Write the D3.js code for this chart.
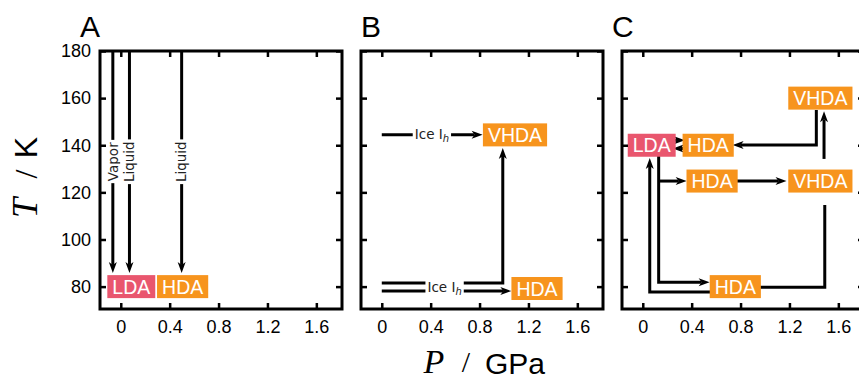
<!DOCTYPE html>
<html>
<head>
<meta charset="utf-8">
<script src="https://cdn.jsdelivr.net/npm/d3@7"></script>
<style>
  body { margin: 0; background: #fff; }
  svg { display: block; }
</style>
</head>
<body>
<div id="chart"></div>
<script>
// axis ticks
const panelNames = ['A', 'B', 'C'];
const pTicks = [0, 0.4, 0.8, 1.2, 1.6];
const tTicks = [80, 100, 120, 140, 160, 180];

// phase boxes per panel: [label, P (GPa), T (K)]
const boxesA = [['LDA', 0.086, 80], ['HDA', 0.506, 80]];
const boxesB = [['VHDA', 1.09, 144.4], ['HDA', 1.27, 79.2]];
const boxesC = [
    ['VHDA', 1.453, 160], ['LDA', 0.073, 140], ['HDA', 0.535, 140],
    ['HDA', 0.567, 124.8], ['VHDA', 1.453, 124.8], ['HDA', 0.757, 80]
];

// paths per panel: points in (P, T), last flag = arrow head at the end
const pathsA = [
    [[[-0.065, 180], [-0.065, 85.8]], true],
    [[[0.071, 180], [0.071, 85.8]], true],
    [[[0.498, 180], [0.498, 85.8]], true]
];
const pathsB = [
    [[[0, 144.5], [0.825, 144.5]], true],
    [[[0, 81.5], [0.99, 81.5], [0.99, 138.8]], true],
    [[[0, 78.1], [1.06, 78.1]], true]
];
const pathsC = [
    [[[0.253, 142.1], [0.345, 142.1]], true],
    [[[0.332, 138.6], [0.245, 138.6]], true],
    [[[1.42, 155], [1.42, 140.1], [0.735, 140.1]], true],
    [[[1.483, 134.2], [1.483, 154.4]], true],
    [[[0.77, 124.8], [1.176, 124.8]], true],
    [[[0.9, 79.7], [1.489, 79.7], [1.489, 114.6]], false],
    [[[0.65, 77.7], [0.057, 77.7], [0.057, 134.6]], true],
    [[[0.13, 138], [0.13, 81.9], [0.547, 81.9]], true],
    [[[0.13, 124.8], [0.359, 124.8]], true]
];

// text labels on paths: [text, P, T]
const labelsA = [['Vapor', -0.065, 133], ['Liquid', 0.071, 133], ['Liquid', 0.498, 133]];
const labelsB = [['Ice I', 0.41, 144.5], ['Ice I', 0.514, 79.6]];

const boxColors = { LDA: '#e9566e', HDA: '#f7941d', VHDA: '#f7941d' };

const width = 859;
const height = 381;
const panelLeft = [100, 361, 622];
const panelWidth = 242;
const plotTop = 51;
const plotBottom = 309;

const svg = d3.select('#chart').append('svg')
    .attr('width', width)
    .attr('height', height)
    .attr('viewBox', `0 0 ${width} ${height}`);

const yScale = d3.scaleLinear().domain([70.5, 180]).range([plotBottom, plotTop]);
const xScale = d3.scaleLinear().domain([-0.17, 1.81]).range([0, panelWidth]);

const sans = 'Liberation Sans, Arial, sans-serif';
const serif = 'Liberation Serif, Times New Roman, serif';

const panels = [
    { boxes: boxesA, paths: pathsA, labels: labelsA, rotate: true },
    { boxes: boxesB, paths: pathsB, labels: labelsB, rotate: false },
    { boxes: boxesC, paths: pathsC, labels: [], rotate: false }
];

function drawPath(g, pts, head) {
    const px = pts.map(d => [xScale(d[0]), yScale(d[1])]);
    const n = px.length;
    let tip = null, ux = 0, uy = 0;
    const L = 11, W = 4, notch = 3;
    if (head) {
        const a = px[n - 2], b = px[n - 1];
        const len = Math.hypot(b[0] - a[0], b[1] - a[1]);
        ux = (b[0] - a[0]) / len;
        uy = (b[1] - a[1]) / len;
        tip = b;
        px[n - 1] = [b[0] - ux * (L - notch), b[1] - uy * (L - notch)];
    }
    g.append('path')
        .attr('d', d3.line()(px))
        .attr('fill', 'none')
        .attr('stroke', '#000')
        .attr('stroke-width', 3)
        .attr('stroke-linejoin', 'miter');
    if (head) {
        const bx = tip[0] - ux * L, by = tip[1] - uy * L;
        const nx = -uy, ny = ux;
        const headPts = [
            tip,
            [bx + nx * W, by + ny * W],
            [tip[0] - ux * (L - notch), tip[1] - uy * (L - notch)],
            [bx - nx * W, by - ny * W]
        ];
        g.append('path')
            .attr('d', 'M' + headPts.map(p => p.join(',')).join('L') + 'Z')
            .attr('fill', '#000');
    }
}

function drawLabel(g, d, rotate) {
    const lg = g.append('g')
        .attr('transform', `translate(${xScale(d[1])},${yScale(d[2])})` + (rotate ? ' rotate(-90)' : ''));
    const bg = lg.append('rect').attr('fill', '#fff');
    const t = lg.append('text')
        .attr('text-anchor', 'middle')
        .attr('dy', '0.35em')
        .attr('font-family', 'DejaVu Sans, sans-serif')
        .attr('font-size', 13.5)
        .attr('fill', '#222')
        .text(d[0]);
    if (d[0] === 'Ice I') {
        t.append('tspan')
            .attr('font-style', 'italic')
            .attr('font-size', 10)
            .attr('dy', 3)
            .text('h');
    }
    const bb = t.node().getBBox();
    bg.attr('x', bb.x - 2).attr('y', rotate ? bb.y - 1 : -8)
        .attr('width', bb.width + 4).attr('height', rotate ? bb.height + 2 : 16);
}

function drawBox(g, d) {
    const bx = g.append('g').attr('transform', `translate(${xScale(d[1])},${yScale(d[2])})`);
    const rect = bx.append('rect').attr('fill', boxColors[d[0]]);
    const t = bx.append('text')
        .attr('text-anchor', 'middle')
        .attr('dy', '0.36em')
        .attr('font-family', sans)
        .attr('font-size', 19.5)
        .attr('fill', '#fff')
        .text(d[0]);
    const bb = t.node().getBBox();
    rect.attr('x', -bb.width / 2 - 5).attr('y', -11.5)
        .attr('width', bb.width + 10).attr('height', 23);
}

panels.forEach((p, i) => {
    const g = svg.append('g').attr('transform', `translate(${panelLeft[i]},0)`);

    p.paths.forEach(d => drawPath(g, d[0], d[1]));
    p.labels.forEach(d => drawLabel(g, d, p.rotate));
    p.boxes.forEach(d => drawBox(g, d));

    // axes with inward ticks on all four sides
    const xb = g.append('g').attr('transform', `translate(0,${plotBottom})`)
        .call(d3.axisBottom(xScale).tickValues(pTicks).tickSizeInner(-6).tickSizeOuter(0)
            .tickPadding(11).tickFormat(d3.format('')));
    const xt = g.append('g').attr('transform', `translate(0,${plotTop})`)
        .call(d3.axisTop(xScale).tickValues(pTicks).tickSizeInner(-6).tickSizeOuter(0).tickFormat(''));
    const yl = g.append('g')
        .call(d3.axisLeft(yScale).tickValues(tTicks).tickSizeInner(-6).tickSizeOuter(0)
            .tickPadding(9).tickFormat(i === 0 ? d3.format('') : ''));
    const yr = g.append('g').attr('transform', `translate(${panelWidth},0)`)
        .call(d3.axisRight(yScale).tickValues(tTicks).tickSizeInner(-6).tickSizeOuter(0).tickFormat(''));
    [xb, xt, yl, yr].forEach(a => {
        a.select('.domain').remove();
        a.selectAll('line').attr('stroke', '#000').attr('stroke-width', 2.5);
        a.selectAll('text').attr('font-family', sans).attr('font-size', 18).attr('fill', '#000');
    });

    g.append('rect')
        .attr('x', 0).attr('y', plotTop)
        .attr('width', panelWidth).attr('height', plotBottom - plotTop)
        .attr('fill', 'none')
        .attr('stroke', '#000')
        .attr('stroke-width', 3);

    g.append('text')
        .attr('x', i === 0 ? -20 : (i === 1 ? 0 : -10))
        .attr('y', 37)
        .attr('font-family', sans)
        .attr('font-size', 30)
        .text(panelNames[i]);
});

// axis titles, each piece placed on its own
function titlePart(x, y, rot, txt, family, italic, size) {
    svg.append('text')
        .attr('transform', `translate(${x},${y})` + (rot ? ' rotate(-90)' : ''))
        .attr('text-anchor', 'middle')
        .attr('font-family', family)
        .attr('font-style', italic ? 'italic' : 'normal')
        .attr('font-size', size)
        .text(txt);
}
titlePart(37, 208, true, 'T', serif, true, 36);
titlePart(37, 174, true, '/', serif, false, 32);
titlePart(37, 147.5, true, 'K', sans, false, 32);

titlePart(434, 373, false, 'P', serif, true, 34);
titlePart(466, 372, false, '/', serif, false, 30);
titlePart(515, 374, false, 'GPa', sans, false, 30);
</script>
</body>
</html>
